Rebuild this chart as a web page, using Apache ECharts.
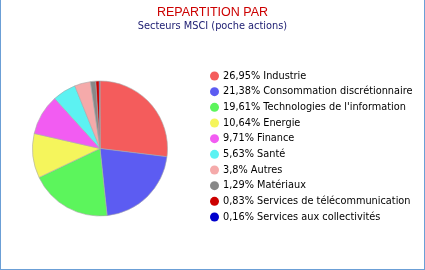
<!DOCTYPE html>
<html><head><meta charset="utf-8">
<script src="https://cdn.jsdelivr.net/npm/echarts@6/dist/echarts.min.js"></script>
<style>
html,body{margin:0;padding:0;background:#fff;}
#c{position:absolute;left:0;top:0;width:423px;height:269px;border-left:1px solid #6b9fd6;border-right:1px solid #6b9fd6;border-bottom:1px solid #6b9fd6;}
</style></head>
<body><div id="c"></div>
<script>
const categories = ["Industrie","Consommation discrétionnaire","Technologies de l'information","Energie","Finance","Santé","Autres","Matériaux","Services de télécommunication","Services aux collectivités"];
const values = [26.95, 21.38, 19.61, 10.64, 9.71, 5.63, 3.8, 1.29, 0.83, 0.16];
const colors = ["#f45c5c","#5c5cf2","#5cf55c","#f5f55c","#f25cf2","#5cf2f2","#f5aaaa","#888888","#cc0000","#0000cc"];

const chart = echarts.init(document.getElementById('c'), null, {renderer:'canvas'});
const fmt = v => String(v).replace('.', ',');
chart.setOption({
  animation:false,
  title:[
    {text:'REPARTITION PAR', left:'center', top:1, textStyle:{color:'#cc0000', fontSize:12.5, fontWeight:'normal', fontFamily:'Liberation Sans'}},
    {text:'Secteurs MSCI (poche actions)', left:'center', top:16, textStyle:{color:'#1a1a70', fontSize:9.8, fontWeight:'normal', fontFamily:'DejaVu Sans'}}
  ],
  legend:{
    orient:'vertical', left:204, top:65, icon:'circle', itemWidth:9, itemHeight:9, itemGap:3.67,
    itemStyle:{borderWidth:0},
    textStyle:{fontSize:9.75, lineHeight:12, fontFamily:'DejaVu Sans', color:'#000', padding:[0,0,0,-1]},
    formatter: name => fmt(values[categories.indexOf(name)]) + '% ' + name,
    data: categories
  },
  series:[{
    type:'pie', center:[99,148.5], radius:67.5, startAngle:90, clockwise:true,
    label:{show:false}, labelLine:{show:false},
    itemStyle:{borderColor:'#aaa', borderWidth:0.6},
    emphasis:{disabled:true},
    data: categories.map((n,i)=>({name:n, value:values[i], itemStyle:{color:colors[i]}}))
  }]
});
</script></body></html>
